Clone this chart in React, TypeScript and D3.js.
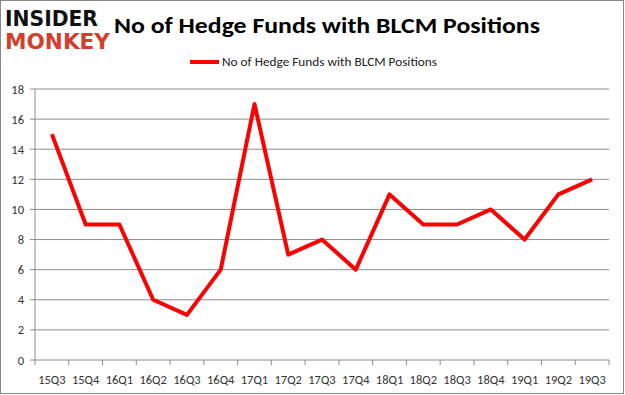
import React from 'react';
import * as d3 from 'd3';

const quarters = ['15Q3', '15Q4', '16Q1', '16Q2', '16Q3', '16Q4', '17Q1', '17Q2', '17Q3', '17Q4', '18Q1', '18Q2', '18Q3', '18Q4', '19Q1', '19Q2', '19Q3'];
const funds = [15, 9, 9, 4, 3, 6, 17, 7, 8, 6, 11, 9, 9, 10, 8, 11, 12];
const yTicks = [0, 2, 4, 6, 8, 10, 12, 14, 16, 18];

const svgWidth = 625, svgHeight = 395;
const plot = { left: 35, right: 609, top: 89, bottom: 360 };

const App = () => {
  const xScale = d3.scaleBand<string>()
    .domain(quarters)
    .range([plot.left, plot.right]);

  const yScale = d3.scaleLinear()
    .domain([0, 18])
    .range([plot.bottom, plot.top]);

  const line = d3.line<number>()
    .x((d, i) => (xScale(quarters[i]) as number) + xScale.bandwidth() / 2)
    .y(d => yScale(d));

  const font = 'Calibri, Carlito, "Liberation Sans", Arial, sans-serif';

  return <svg
    width={svgWidth}
    height={svgHeight}
    style={{ position: 'absolute', left: 0, top: 0 }}
    fontFamily={font}
  >
    <rect x={0} y={0} width={svgWidth} height={svgHeight} fill='#fff' />
    <rect x={0.5} y={0.5} width={svgWidth - 2} height={svgHeight - 2} fill='none' stroke='#888' />

    {/* logo */}
    <text x={5} y={26} fontSize={21} fontWeight='bold' fill='#111' textLength={93} lengthAdjust='spacingAndGlyphs'
      fontFamily='"DejaVu Sans", sans-serif'>INSIDER</text>
    <text x={5} y={49} fontSize={21} fontWeight='bold' fill='#d2402c' textLength={105} lengthAdjust='spacingAndGlyphs'
      fontFamily='"DejaVu Sans", sans-serif'>MONKEY</text>

    {/* title */}
    <text x={114} y={33} fontSize={22} fontWeight='bold' fill='#000' textLength={426} lengthAdjust='spacingAndGlyphs'>
      No of Hedge Funds with BLCM Positions
    </text>

    {/* legend */}
    <line x1={190} x2={219} y1={62} y2={62} stroke='#ff0000' strokeWidth={4} />
    <text x={222} y={66} fontSize={12} fill='#222' textLength={215} lengthAdjust='spacingAndGlyphs'>
      No of Hedge Funds with BLCM Positions
    </text>

    {/* y grid */}
    <g className='yAxis'>
      {yTicks.map(y => <g key={y}>
        <line x1={plot.left} x2={plot.right} y1={yScale(y)} y2={yScale(y)} stroke='#8c8c8c' strokeWidth={1} />
        <line x1={plot.left - 5} x2={plot.left} y1={yScale(y)} y2={yScale(y)} stroke='#8c8c8c' />
        <text x={plot.left - 11} y={yScale(y)} dy={4.5} textAnchor='end' fontSize={12.5} fill='#333'>{y}</text>
      </g>)}
      <line x1={plot.left} x2={plot.left} y1={plot.top} y2={plot.bottom} stroke='#8c8c8c' />
    </g>

    {/* x axis */}
    <g className='xAxis'>
      {quarters.map(q => <g key={q}>
        <line x1={xScale(q)} x2={xScale(q)} y1={plot.bottom} y2={plot.bottom + 5} stroke='#8c8c8c' />
        <text x={(xScale(q) as number) + xScale.bandwidth() / 2} y={plot.bottom + 24} textAnchor='middle' fontSize={12.5} fill='#333'>{q}</text>
      </g>)}
      <line x1={plot.right} x2={plot.right} y1={plot.bottom} y2={plot.bottom + 5} stroke='#8c8c8c' />
    </g>

    <path d={line(funds) || ''} fill='none' stroke='#ff0000' strokeWidth={4} strokeLinejoin='round' />
  </svg>
}

export default App;
